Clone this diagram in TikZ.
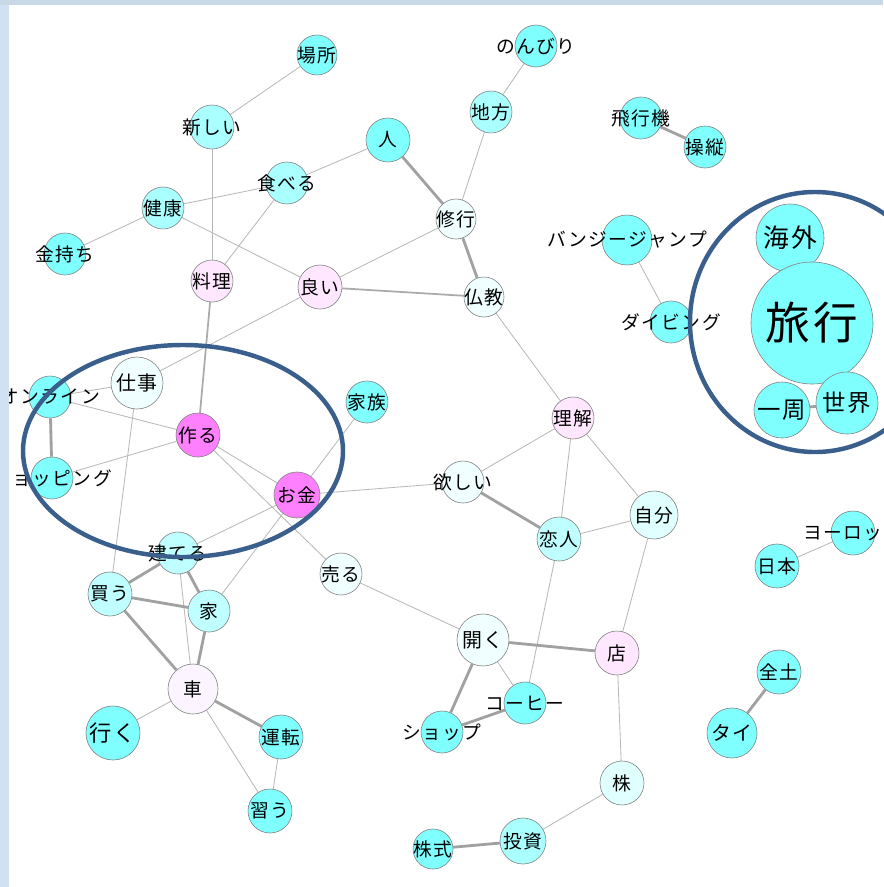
\documentclass[tikz,border=0pt]{standalone}
\usepackage{fontspec}
\setmainfont{Noto Sans CJK JP}[LetterSpace=8]
\pgfdeclarelayer{background}
\pgfsetlayers{background,main}
\definecolor{aqua}{HTML}{80FFFF}
\definecolor{aqualt}{HTML}{AAFFFF}
\definecolor{aquapl}{HTML}{BFFFFF}
\definecolor{aquawt}{HTML}{E0FFFF}
\definecolor{frost}{HTML}{F0FFFF}
\definecolor{rose}{HTML}{FFE8FF}
\definecolor{magen}{HTML}{FF80FF}
\definecolor{lilac}{HTML}{FCF4FF}
\definecolor{ring}{HTML}{3B5F8C}
\definecolor{frame}{HTML}{D0E2F2}
\begin{document}
\begin{tikzpicture}[x=0.03cm, y=-0.03cm,
	nd/.style={circle, draw=black!50, line width=0.5pt, inner sep=0pt, minimum size=#1*0.06cm},
	ln/.style={draw=black!28, line width=0.7pt},
	lnm/.style={draw=black!33, line width=1.5pt},
	lnb/.style={draw=black!37, line width=2.4pt},
	every label/.style={font=\fontsize{16pt}{16pt}\selectfont}]
%		\draw[help lines, step=100] (0,0) grid (883,887);
		\useasboundingbox (0,0) rectangle (883,887);
		\node[nd=20, fill=aqua, label=center:場所] (1) at (317,55) {};
		\node[nd=21, fill=aqua, label=center:のんびり] (2) at (536,46) {};
		\node[nd=21, fill=aqualt, label=center:地方] (3) at (491,112) {};
		\node[nd=22, fill=aqua, label=center:人] (4) at (388,140) {};
		\node[nd=22, fill=aqualt, label=center:新しい] (5) at (212,127) {};
		\node[nd=21, fill=aqualt, label=center:食べる] (6) at (287,183) {};
		\node[nd=21, fill=aqualt, label=center:健康] (7) at (163,208) {};
		\node[nd=21, fill=aqua, label=center:金持ち] (8) at (65,254) {};
		\node[nd=20, fill=frost, label=center:修行] (9) at (456,219) {};
		\node[nd=21, fill=rose, label=center:料理] (10) at (212,281) {};
		\node[nd=22, fill=rose, label=center:良い] (11) at (320,287) {};
		\node[nd=20, fill=frost, label=center:仏教] (12) at (484,297) {};
		\node[nd=21, fill=aqua, label=center:飛行機] (13) at (641,118) {};
		\node[nd=21, fill=aqua, label=center:操縦] (14) at (705,147) {};
		\node[nd=25, fill=aqua, label=center:バンジージャンプ] (15) at (627,240) {};
		\node[nd=21, fill=aqua, label=center:ダイビング] (16) at (671,322) {};
		\node[nd=34, fill=aqua, label={[font=\fontsize{22pt}{22pt}\selectfont]center:海外}] (17) at (790,238) {};
		\node[nd=61, fill=aqua, label={[font=\fontsize{38pt}{38pt}\selectfont]center:旅行}] (18) at (812,323) {};
		\node[nd=28, fill=aqua, label={[font=\fontsize{20pt}{20pt}\selectfont]center:一周}] (19) at (782,410) {};
		\node[nd=31, fill=aqua, label={[font=\fontsize{20pt}{20pt}\selectfont]center:世界}] (20) at (847,403) {};
		\node[nd=21, fill=aqua, label=center:オンライン] (21) at (50,397) {};
		\node[nd=21, fill=aqua, label=center:ショッピング] (22) at (52,478) {};
		\node[nd=26, fill=frost, label={[font=\fontsize{17pt}{17pt}\selectfont]center:仕事}] (23) at (137,383) {};
		\node[nd=22, fill=magen, label=center:作る] (24) at (198,435) {};
		\node[nd=23, fill=magen, label=center:お金] (25) at (297,495) {};
		\node[nd=21, fill=aqua, label=center:家族] (26) at (367,402) {};
		\node[nd=21, fill=rose, label=center:理解] (27) at (573,418) {};
		\node[nd=21, fill=frost, label=center:欲しい] (28) at (463,482) {};
		\node[nd=22, fill=aquapl, label=center:恋人] (29) at (559,539) {};
		\node[nd=24, fill=aquawt, label=center:自分] (30) at (654,515) {};
		\node[nd=21, fill=frost, label=center:売る] (31) at (341,574) {};
		\node[nd=21, fill=aquapl, label=center:建てる] (32) at (178,553) {};
		\node[nd=22, fill=aquapl, label=center:買う] (33) at (110,594) {};
		\node[nd=21, fill=aquapl, label=center:家] (34) at (209,611) {};
		\node[nd=25, fill=lilac, label=center:車] (35) at (193,689) {};
		\node[nd=27, fill=aqua, label={[font=\fontsize{19pt}{19pt}\selectfont]center:行く}] (36) at (113,733) {};
		\node[nd=22, fill=aqua, label=center:運転] (37) at (281,737) {};
		\node[nd=22, fill=aqua, label=center:習う] (38) at (270,811) {};
		\node[nd=26, fill=frost, label={[font=\fontsize{17pt}{17pt}\selectfont]center:開く}] (39) at (483,640) {};
		\node[nd=22, fill=rose, label=center:店] (40) at (617,653) {};
		\node[nd=21, fill=aqua, label=center:コーヒー] (41) at (525,703) {};
		\node[nd=21, fill=aqua, label=center:ショップ] (42) at (442,732) {};
		\node[nd=22, fill=aquawt, label=center:株] (43) at (622,783) {};
		\node[nd=23, fill=aqualt, label=center:投資] (44) at (523,841) {};
		\node[nd=20, fill=aqua, label=center:株式] (45) at (433,849) {};
		\node[nd=22, fill=aqua, label=center:ヨーロッパ] (46) at (853,533) {};
		\node[nd=22, fill=aqua, label=center:日本] (47) at (777,566) {};
		\node[nd=22, fill=aqua, label=center:全土] (48) at (779,672) {};
		\node[nd=25, fill=aqua, label={[font=\fontsize{17pt}{17pt}\selectfont]center:タイ}] (49) at (732,733) {};
		\begin{pgfonlayer}{background}
		\fill[white] (0,0) rectangle (883,887);
		\draw[ln] (1) edge (5);
		\draw[ln] (5) edge (10);
		\draw[ln] (4) edge (6);
		\draw[ln] (6) edge (7);
		\draw[ln] (6) edge (10);
		\draw[ln] (7) edge (8);
		\draw[ln] (7) edge (11);
		\draw[ln] (9) edge (3);
		\draw[ln] (3) edge (2);
		\draw[ln] (9) edge (11);
		\draw[ln] (12) edge (27);
		\draw[ln] (11) edge (23);
		\draw[ln] (23) edge (21);
		\draw[ln] (21) edge (24);
		\draw[ln] (22) edge (24);
		\draw[ln] (23) edge (33);
		\draw[ln] (24) edge (25);
		\draw[ln] (24) edge (31);
		\draw[ln] (25) edge (26);
		\draw[ln] (25) edge (28);
		\draw[ln] (25) edge (32);
		\draw[ln] (25) edge (34);
		\draw[ln] (32) edge (35);
		\draw[ln] (35) edge (36);
		\draw[ln] (35) edge (38);
		\draw[ln] (37) edge (38);
		\draw[ln] (28) edge (27);
		\draw[ln] (27) edge (29);
		\draw[ln] (27) edge (30);
		\draw[ln] (29) edge (30);
		\draw[ln] (29) edge (41);
		\draw[ln] (30) edge (40);
		\draw[ln] (31) edge (39);
		\draw[ln] (39) edge (41);
		\draw[ln] (40) edge (43);
		\draw[ln] (43) edge (44);
		\draw[ln] (15) edge (16);
		\draw[ln] (47) edge (46);
		\draw[lnm] (11) edge (12);
		\draw[lnm] (10) edge (24);
		\draw[lnb] (4) edge (9);
		\draw[lnb] (9) edge (12);
		\draw[lnb] (21) edge (22);
		\draw[lnb] (32) edge (33);
		\draw[lnb] (32) edge (34);
		\draw[lnb] (33) edge (34);
		\draw[lnb] (33) edge (35);
		\draw[lnb] (34) edge (35);
		\draw[lnb] (35) edge (37);
		\draw[lnb] (28) edge (29);
		\draw[lnb] (39) edge (40);
		\draw[lnb] (39) edge (42);
		\draw[lnb] (42) edge (41);
		\draw[lnb] (44) edge (45);
		\draw[lnb] (13) edge (14);
		\draw[lnb] (48) edge (49);
		\draw[lnb] (19) edge (20);
		\end{pgfonlayer}
		\draw[ring, line width=3.8pt] (183,451) ellipse [x radius=4.8cm, y radius=3.18cm];
		\draw[ring, line width=3.8pt] (815,322) ellipse [x radius=3.75cm, y radius=3.9cm];
		\fill[frame] (0,0) rectangle (9,887);
		\fill[frame!90!gray] (0,0) rectangle (883,5);
\end{tikzpicture}
\end{document}
